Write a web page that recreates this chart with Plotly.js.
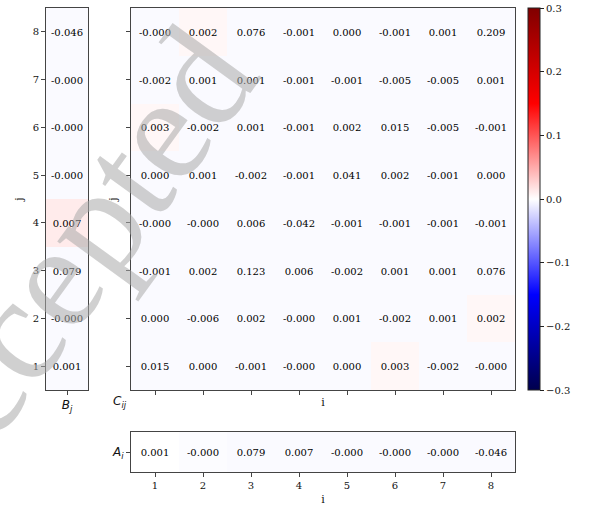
<!DOCTYPE html>
<html>
<head>
<meta charset="utf-8">
<script src="https://cdn.plot.ly/plotly-3.0.1.min.js"></script>
<style>html,body{margin:0;padding:0;background:#fff;}#chart{width:591px;height:506px;}</style>
</head>
<body>
<div id="chart"></div>
<script>
// index labels
const idx = [1, 2, 3, 4, 5, 6, 7, 8];
const idxLabels = ["1", "2", "3", "4", "5", "6", "7", "8"];

// C_ij printed values, rows j = 1..8 (bottom to top), columns i = 1..8
const cText = [
  ["0.015", "0.000", "-0.001", "-0.000", "0.000", "0.003", "-0.002", "-0.000"],
  ["0.000", "-0.006", "0.002", "-0.000", "0.001", "-0.002", "0.001", "0.002"],
  ["-0.001", "0.002", "0.123", "0.006", "-0.002", "0.001", "0.001", "0.076"],
  ["-0.000", "-0.000", "0.006", "-0.042", "-0.001", "-0.001", "-0.001", "-0.001"],
  ["0.000", "0.001", "-0.002", "-0.001", "0.041", "0.002", "-0.001", "0.000"],
  ["0.003", "-0.002", "0.001", "-0.001", "0.002", "0.015", "-0.005", "-0.001"],
  ["-0.002", "0.001", "0.001", "-0.001", "-0.001", "-0.005", "-0.005", "0.001"],
  ["-0.000", "0.002", "0.076", "-0.001", "0.000", "-0.001", "0.001", "0.209"]
];
// C_ij cell shading as drawn, same layout
const cShade = [
  [-0.003, -0.003, -0.003, -0.003, -0.003, 0.005, -0.003, -0.003],
  [-0.003, -0.003, -0.003, -0.003, -0.003, -0.003, -0.003, 0.005],
  [-0.003, -0.003, -0.003, -0.003, -0.003, -0.003, -0.003, -0.003],
  [-0.003, -0.003, -0.003, -0.003, -0.003, -0.003, -0.003, -0.003],
  [-0.003, -0.003, -0.003, -0.003, -0.003, -0.003, -0.003, -0.003],
  [0.005, -0.003, -0.003, -0.003, -0.003, -0.003, -0.003, -0.003],
  [-0.003, -0.003, -0.003, -0.003, -0.003, -0.003, -0.003, -0.003],
  [-0.003, 0.005, -0.003, -0.003, -0.003, -0.003, -0.003, -0.003]
];

// B_j printed values, j = 1..8
const bText = ["0.001", "-0.000", "0.079", "0.007", "-0.000", "-0.000", "-0.000", "-0.046"];
const bShade = [-0.003, -0.003, -0.003, 0.012, -0.003, -0.003, -0.003, -0.003];

// A_i printed values, i = 1..8
const aText = ["0.001", "-0.000", "0.079", "0.007", "-0.000", "-0.000", "-0.000", "-0.046"];
const aShade = [0.0, -0.002, -0.003, -0.003, -0.003, -0.003, -0.003, -0.003];

// colorbar ticks
const cbTicks = [-0.3, -0.2, -0.1, 0.0, 0.1, 0.2, 0.3];
const cbTickText = ["\u22120.3", "\u22120.2", "\u22120.1", "0.0", "0.1", "0.2", "0.3"];

const seismic = [
  [0.0, "rgb(0,0,77)"],
  [0.25, "rgb(0,0,255)"],
  [0.5, "rgb(255,255,255)"],
  [0.75, "rgb(255,0,0)"],
  [1.0, "rgb(128,0,0)"]
];

const serif = "DejaVu Serif, serif";
const sans = "DejaVu Sans, sans-serif";
const cellFont = {family: serif, size: 10, color: "#000"};

const traces = [
  {
    type: "heatmap", x: idx, y: idx, z: cShade, text: cText,
    texttemplate: "%{text}", textfont: cellFont,
    coloraxis: "coloraxis", xaxis: "x", yaxis: "y", hoverinfo: "skip"
  },
  {
    type: "heatmap", x: [1], y: idx, z: bShade.map(v => [v]), text: bText.map(v => [v]),
    texttemplate: "%{text}", textfont: cellFont,
    coloraxis: "coloraxis", xaxis: "x2", yaxis: "y2", hoverinfo: "skip"
  },
  {
    type: "heatmap", x: idx, y: [1], z: [aShade], text: [aText],
    texttemplate: "%{text}", textfont: cellFont,
    coloraxis: "coloraxis", xaxis: "x3", yaxis: "y3", hoverinfo: "skip"
  }
];

const W = 591, H = 506;
const px = (a, b) => [a / W, b / W];
const py = (top, bottom) => [(H - bottom) / H, (H - top) / H];

const axBase = {
  showgrid: false, zeroline: false, showline: true, mirror: true,
  linecolor: "#444", linewidth: 1, ticks: "outside", ticklen: 4, tickwidth: 1,
  tickcolor: "#444", tickfont: {family: serif, size: 10, color: "#111"},
  fixedrange: true
};

const cX = px(131, 515), cY = py(8, 390);
const layout = {
  width: W, height: H,
  margin: {l: 0, r: 0, t: 0, b: 0},
  paper_bgcolor: "#fff", plot_bgcolor: "#fff",
  showlegend: false,
  xaxis: Object.assign({}, axBase, {
    domain: cX, anchor: "y", range: [0.5, 8.5], tickvals: idx, showticklabels: false,
    title: {text: "i", font: {family: serif, size: 11, color: "#111"}, standoff: 4}
  }),
  yaxis: Object.assign({}, axBase, {
    domain: cY, anchor: "x", range: [0.5, 8.5], tickvals: idx, showticklabels: false,
    title: {text: "j", font: {family: serif, size: 11, color: "#111"}, standoff: 6}
  }),
  xaxis2: Object.assign({}, axBase, {
    domain: px(46, 88), anchor: "y2", range: [0.5, 1.5], tickvals: [1],
    ticktext: ["<i>B</i><sub><i>j</i></sub>"], tickfont: {family: sans, size: 12, color: "#111"}
  }),
  yaxis2: Object.assign({}, axBase, {
    domain: cY, anchor: "x2", range: [0.5, 8.5], tickvals: idx, ticktext: idxLabels,
    title: {text: "j", font: {family: serif, size: 11, color: "#111"}, standoff: 6}
  }),
  xaxis3: Object.assign({}, axBase, {
    domain: cX, anchor: "y3", range: [0.5, 8.5], tickvals: idx, ticktext: idxLabels,
    title: {text: "i", font: {family: serif, size: 11, color: "#111"}, standoff: 6}
  }),
  yaxis3: Object.assign({}, axBase, {
    domain: py(432, 472), anchor: "x3", range: [0.5, 1.5], tickvals: [1],
    ticktext: ["<i>A</i><sub><i>i</i></sub>"], tickfont: {family: sans, size: 12, color: "#111"}
  }),
  coloraxis: {
    colorscale: seismic, cmin: -0.3, cmax: 0.3,
    colorbar: {
      x: 528 / W, xanchor: "left", xref: "paper",
      y: (H - 390) / H, yanchor: "bottom", yref: "paper",
      len: 382 / H, lenmode: "fraction",
      thickness: 12, thicknessmode: "pixels",
      outlinewidth: 1, outlinecolor: "#222",
      ticks: "outside", ticklen: 4, tickcolor: "#222",
      tickvals: cbTicks, ticktext: cbTickText,
      tickfont: {family: serif, size: 10, color: "#111"},
      xpad: 0, ypad: 0
    }
  },
  annotations: [
    {
      text: "<i>C</i><sub><i>ij</i></sub>", xref: "paper", yref: "paper",
      x: 120 / W, y: (H - 402) / H, xanchor: "center", yanchor: "middle",
      showarrow: false, font: {family: sans, size: 12, color: "#111"}
    },
    {
      text: "Accepted", xref: "paper", yref: "paper",
      x: 55 / W, y: (H - 275) / H, xanchor: "center", yanchor: "middle",
      showarrow: false, textangle: -54,
      font: {family: "Liberation Serif, serif", size: 150, color: "rgba(170,170,170,0.55)"}
    }
  ]
};

Plotly.newPlot("chart", traces, layout, {displayModeBar: false, staticPlot: true});
</script>
</body>
</html>
